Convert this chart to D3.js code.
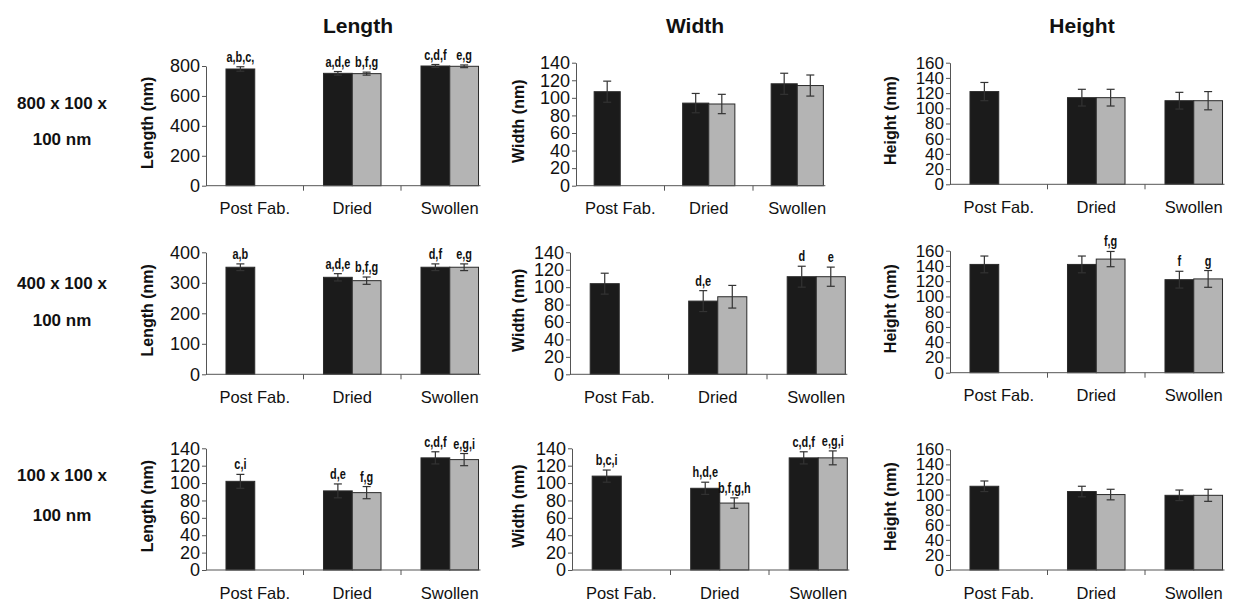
<!DOCTYPE html>
<html>
<head>
<meta charset="utf-8">
<script src="https://cdn.jsdelivr.net/npm/d3@7"></script>
<style>
  body { margin: 0; background: #fff; }
  svg { display: block; font-family: "Liberation Sans", Arial, sans-serif; }
  .tick text { fill: #111; }
</style>
</head>
<body>
<script>
// categories and bar order (black = first series, grey = second series)
const categories = ["Post Fab.", "Dried", "Swollen"];
const barCategory = ["Post Fab.", "Dried", "Dried", "Swollen", "Swollen"];
const barSeries = ["dark", "dark", "light", "dark", "light"];

const measures = ["Length", "Width", "Height"];
const rowLabels = [["800 x 100 x", "100 nm"], ["400 x 100 x", "100 nm"], ["100 x 100 x", "100 nm"]];

// 800 x 100 x 100 nm
const len800 = [780, 751, 749, 800, 798];
const len800Err = [15, 12, 10, 10, 9];
const len800Sig = ["a,b,c,", "a,d,e", "b,f,g", "c,d,f", "e,g"];
const wid800 = [107, 94, 93, 116, 114];
const wid800Err = [12, 11, 11, 12, 12];
const wid800Sig = ["", "", "", "", ""];
const hei800 = [122, 114, 114, 110, 110];
const hei800Err = [12, 11, 11, 11, 12];
const hei800Sig = ["", "", "", "", ""];

// 400 x 100 x 100 nm
const len400 = [351, 318, 307, 351, 351];
const len400Err = [11, 12, 12, 11, 11];
const len400Sig = ["a,b", "a,d,e", "b,f,g", "d,f", "e,g"];
const wid400 = [104, 84, 89, 112, 112];
const wid400Err = [12, 12, 13, 12, 11];
const wid400Sig = ["", "d,e", "", "d", "e"];
const hei400 = [142, 142, 149, 122, 123];
const hei400Err = [11, 11, 10, 11, 11];
const hei400Sig = ["", "", "f,g", "f", "g"];

// 100 x 100 x 100 nm
const len100 = [102, 91, 89, 129, 127];
const len100Err = [8, 8, 7, 7, 7];
const len100Sig = ["c,i", "d,e", "f,g", "c,d,f", "e,g,i"];
const wid100 = [108, 94, 77, 129, 129];
const wid100Err = [7, 7, 6, 7, 8];
const wid100Sig = ["b,c,i", "h,d,e", "b,f,g,h", "c,d,f", "e,g,i"];
const hei100 = [111, 104, 100, 99, 99];
const hei100Err = [7, 7, 7, 7, 8];
const hei100Sig = ["", "", "", "", ""];

// y tick labels
const ticksLen800 = [0, 200, 400, 600, 800];
const ticksLen400 = [0, 100, 200, 300, 400];
const ticks140 = [0, 20, 40, 60, 80, 100, 120, 140];
const ticks160 = [0, 20, 40, 60, 80, 100, 120, 140, 160];

const panels = [
  [[len800, len800Err, len800Sig, ticksLen800], [wid800, wid800Err, wid800Sig, ticks140], [hei800, hei800Err, hei800Sig, ticks160]],
  [[len400, len400Err, len400Sig, ticksLen400], [wid400, wid400Err, wid400Sig, ticks140], [hei400, hei400Err, hei400Sig, ticks160]],
  [[len100, len100Err, len100Sig, ticks140], [wid100, wid100Err, wid100Sig, ticks140], [hei100, hei100Err, hei100Sig, ticks160]]
];

// layout
const W = 1234, H = 602;
const colX = [[206, 576, 950], [206, 570, 950], [206, 572, 950]];
const colW = [[97.5, 88.5, 97.5], [97.5, 98.5, 97.5], [97.5, 98.5, 97.5]];
const rowTop = [[66, 62.7, 62.7], [252.3, 252.3, 250.7], [448.3, 448.3, 449.3]];
const rowBottom = [[185.7, 185.7, 184.3], [374.3, 374.3, 372.7], [570, 570, 570]];
const labelX = [147, 518, 890];
const titleX = [358, 695, 1082];
const rowLabelY = [[103, 139], [283, 320], [475, 515]];

const svg = d3.select("body").append("svg")
  .attr("width", W)
  .attr("height", H);

// column titles
svg.selectAll(".title").data(measures).join("text")
  .attr("x", (d, i) => titleX[i])
  .attr("y", 33)
  .attr("text-anchor", "middle")
  .style("font-size", "21px")
  .style("font-weight", "bold")
  .style("fill", "#111")
  .text(d => d);

// row labels
rowLabels.forEach((lines, r) => {
  lines.forEach((t, k) => {
    svg.append("text")
      .attr("x", 62)
      .attr("y", rowLabelY[r][k])
      .attr("dy", "0.35em")
      .attr("text-anchor", "middle")
      .style("font-size", "17px")
      .style("font-weight", "bold")
      .style("fill", "#111")
      .text(t);
  });
});

panels.forEach((row, r) => {
  row.forEach(([vals, errs, sigs, ticks], c) => {
    const x0 = colX[r][c];
    const plotW = colW[r][c] * categories.length;
    const top = rowTop[r][c], bottom = rowBottom[r][c];

    const g = svg.append("g").attr("transform", `translate(${x0},0)`);

    const x = d3.scaleBand().domain(categories).range([0, plotW]);
    const y = d3.scaleLinear().domain([0, d3.max(ticks)]).range([bottom, top]);
    const bw = x.bandwidth() * 0.295;

    const bars = vals.map((v, i) => ({
      cat: barCategory[i], series: barSeries[i], v: v, e: errs[i], sig: sigs[i]
    }));
    const barX = d => x(d.cat) + x.bandwidth() / 2 - (d.series === "dark" ? bw : 0);

    // bars
    g.selectAll("rect").data(bars).join("rect")
      .attr("x", barX)
      .attr("y", d => y(d.v))
      .attr("width", bw)
      .attr("height", d => y(0) - y(d.v))
      .attr("fill", d => d.series === "dark" ? "#1b1b1b" : "#b4b4b4")
      .attr("stroke", "#2a2a2a")
      .attr("stroke-width", 1);

    // error bars
    const eb = g.selectAll(".err").data(bars).join("g")
      .attr("transform", d => `translate(${barX(d) + bw / 2},0)`)
      .attr("stroke", "#333")
      .attr("stroke-width", 1.2);
    eb.append("line").attr("y1", d => y(d.v + d.e)).attr("y2", d => y(d.v - d.e));
    eb.append("line").attr("x1", -4).attr("x2", 4).attr("y1", d => y(d.v + d.e)).attr("y2", d => y(d.v + d.e));
    eb.append("line").attr("x1", -4).attr("x2", 4).attr("y1", d => y(d.v - d.e)).attr("y2", d => y(d.v - d.e));

    // significance letters (narrow bold)
    g.selectAll(".sig").data(bars.filter(d => d.sig)).join("text")
      .attr("transform", d => `translate(${barX(d) + bw / 2},${y(d.v + d.e) - 5}) scale(0.78,1)`)
      .attr("text-anchor", "middle")
      .style("font-size", "14px")
      .style("font-weight", "bold")
      .style("fill", "#111")
      .text(d => d.sig);

    // y axis
    const ay = g.append("g")
      .call(d3.axisLeft(y).tickValues(ticks).tickSize(4).tickSizeOuter(0).tickPadding(2));
    ay.selectAll("text").style("font-size", ticks.length > 8 ? "17px" : "18px");
    ay.selectAll("line, path").attr("stroke", "#555");

    // x axis: labels at centres, ticks at category boundaries
    const ax = g.append("g")
      .attr("transform", `translate(0,${bottom})`)
      .call(d3.axisBottom(x).tickSize(0).tickPadding(17));
    ax.select(".domain").remove();
    ax.selectAll("text").style("font-size", "16.5px");

    const lastBar = bars[bars.length - 1];
    g.append("line")
      .attr("x1", 0).attr("x2", barX(lastBar) + bw + 2)
      .attr("y1", bottom).attr("y2", bottom)
      .attr("stroke", "#555");
    g.selectAll(".bnd").data(categories.slice(1)).join("line")
      .attr("x1", d => x(d)).attr("x2", d => x(d))
      .attr("y1", bottom).attr("y2", bottom + 5)
      .attr("stroke", "#555");

    // y axis title
    g.append("text")
      .attr("transform", `translate(${labelX[c] - x0},${(top + bottom) / 2 - 3}) rotate(-90)`)
      .attr("text-anchor", "middle")
      .attr("dy", "0.35em")
      .style("font-size", "16px")
      .style("font-weight", "bold")
      .style("fill", "#111")
      .text(`${measures[c]} (nm)`);
  });
});
</script>
</body>
</html>
